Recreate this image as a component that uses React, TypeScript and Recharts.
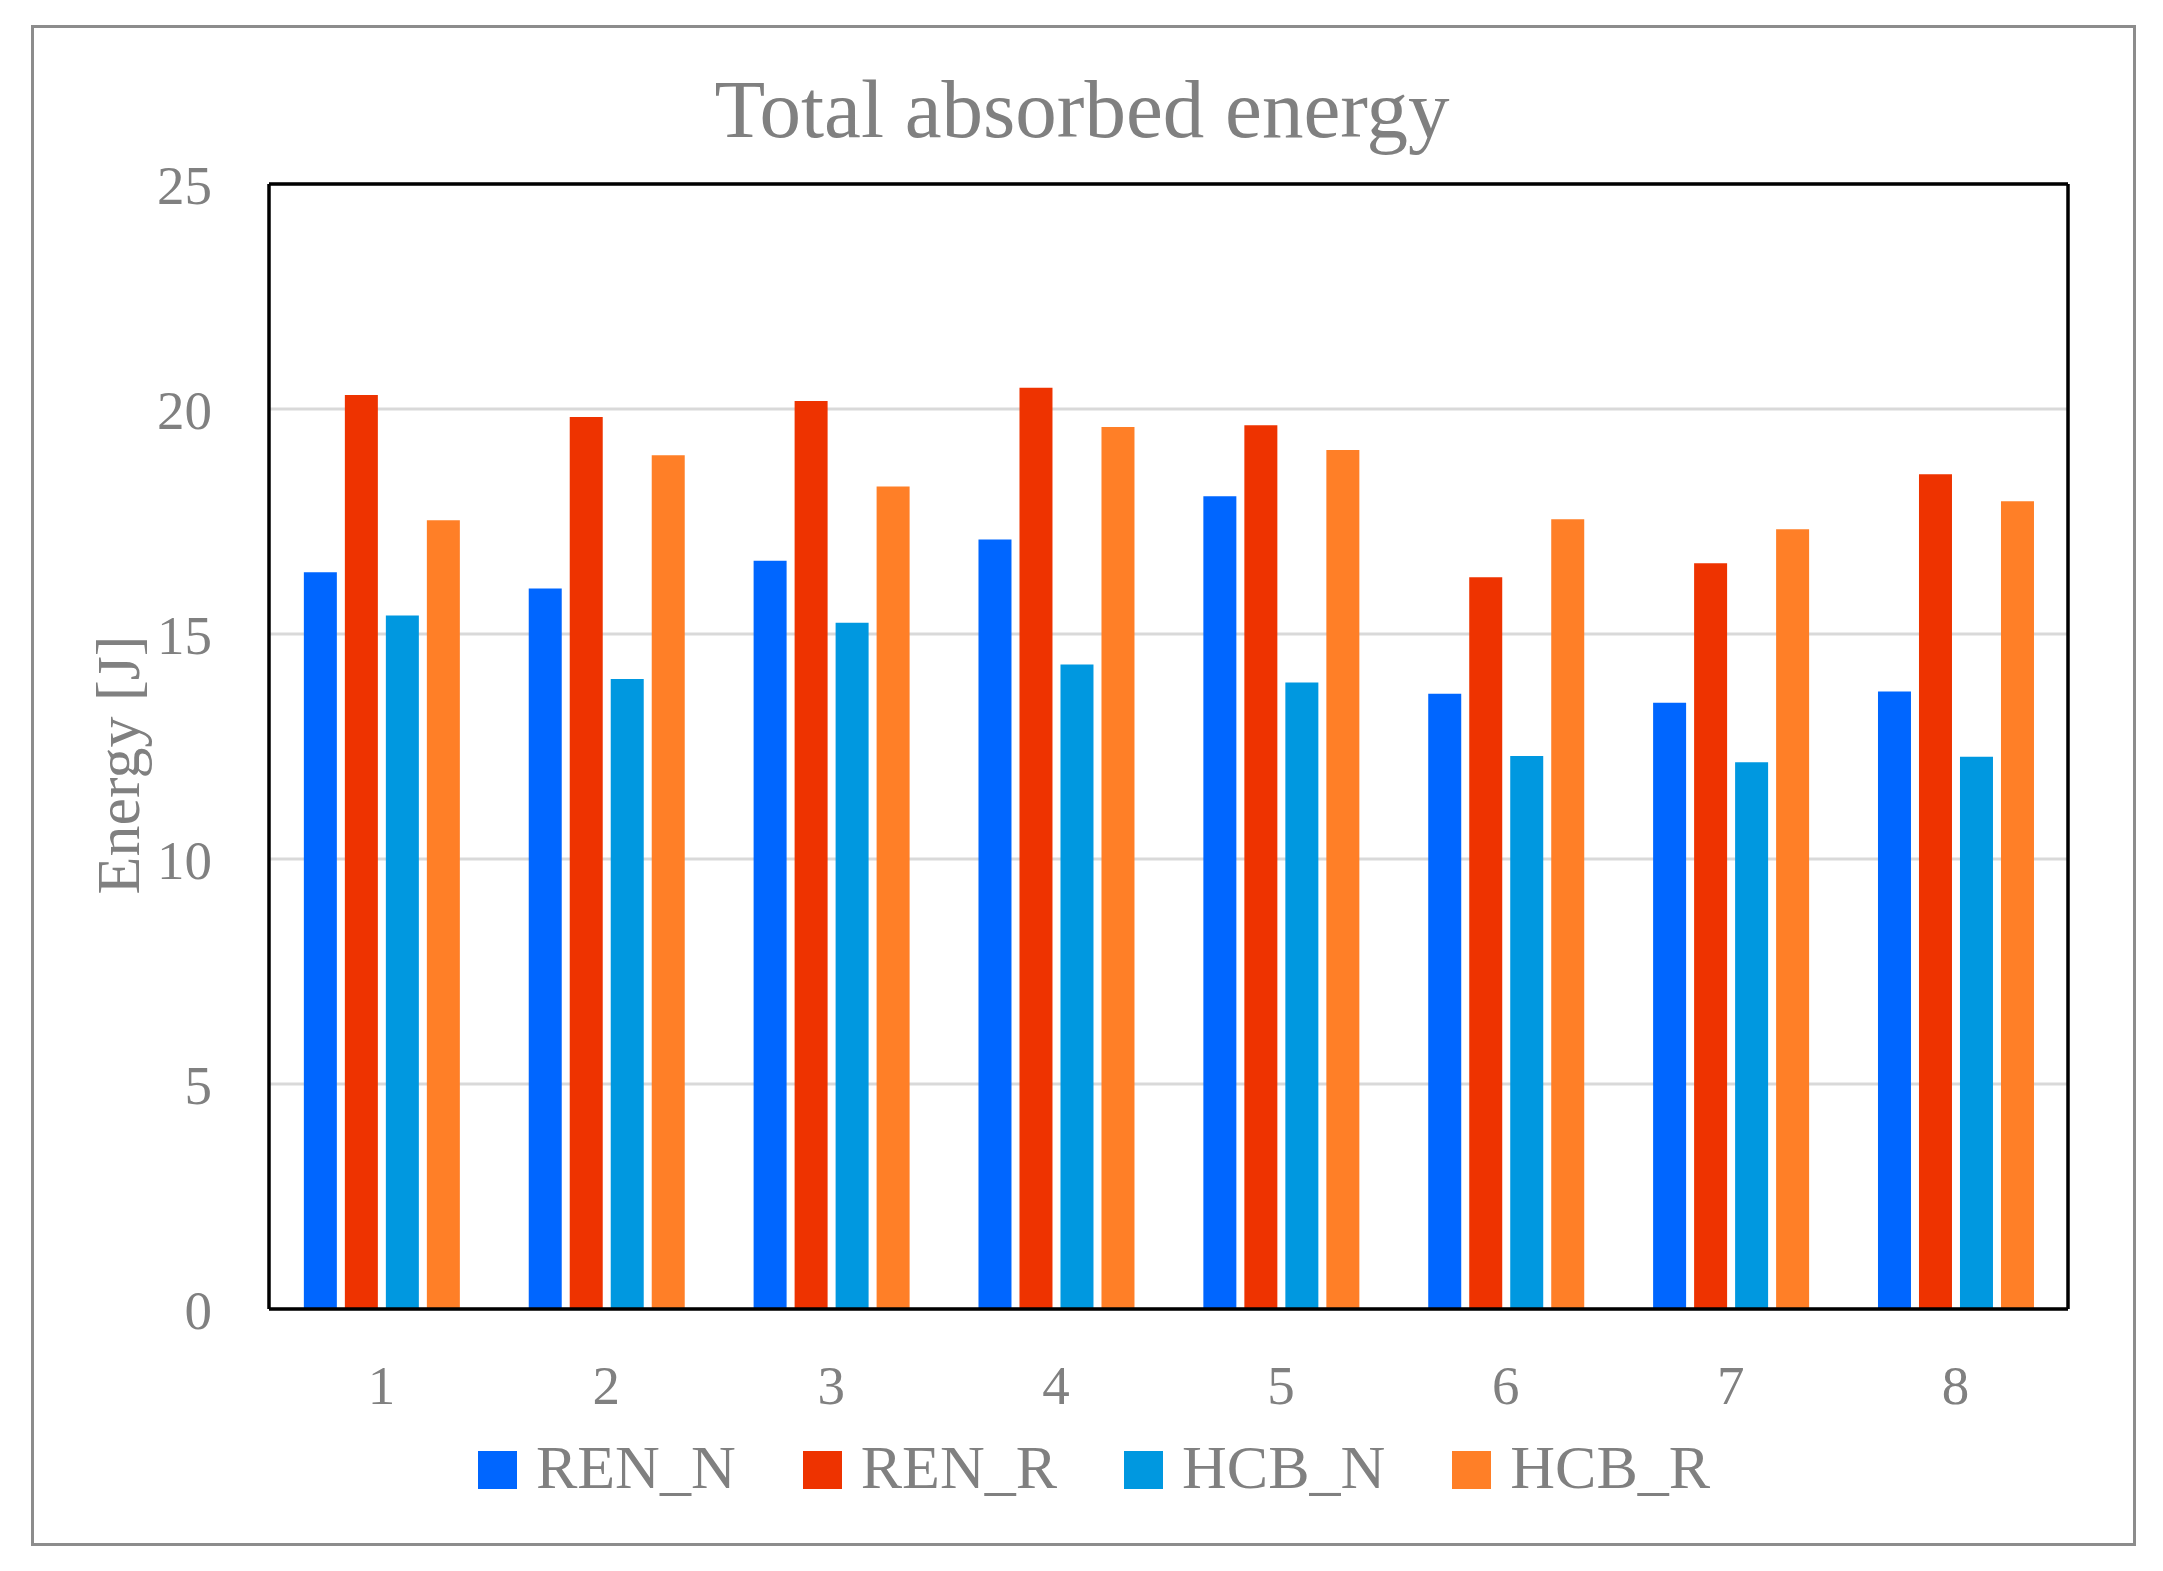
import React from "react";
import { BarChart, Bar, XAxis, YAxis, CartesianGrid } from "recharts";

const categories = ["1", "2", "3", "4", "5", "6", "7", "8"];
const renN = [16.37, 16.01, 16.63, 17.1, 18.06, 13.67, 13.47, 13.72];
const renR = [20.31, 19.82, 20.18, 20.47, 19.64, 16.26, 16.57, 18.55];
const hcbN = [15.41, 14.0, 15.25, 14.32, 13.92, 12.29, 12.15, 12.27];
const hcbR = [17.53, 18.97, 18.28, 19.6, 19.09, 17.55, 17.33, 17.95];
const yTicks = [0, 5, 10, 15, 20, 25];

const series = [
  { key: "REN_N", color: "#0066ff" },
  { key: "REN_R", color: "#ee3300" },
  { key: "HCB_N", color: "#0098e0" },
  { key: "HCB_R", color: "#ff7f27" },
];

const data = categories.map((name, i) => ({
  name,
  REN_N: renN[i],
  REN_R: renR[i],
  HCB_N: hcbN[i],
  HCB_R: hcbR[i],
}));

const FONT = "'Liberation Serif', 'Times New Roman', serif";
const GREY = "#808080";
const BORDER = { stroke: "#000", strokeWidth: 3.5 };

const App = () => {
  return (
    <div
      style={{
        position: "absolute",
        left: 0,
        top: 0,
        width: 2163,
        height: 1571,
        background: "#fff",
      }}
    >
      <div
        style={{
          position: "absolute",
          left: 31,
          top: 25,
          width: 2105,
          height: 1521,
          boxSizing: "border-box",
          border: "3px solid #8c8c8c",
        }}
      />
      <div
        style={{
          position: "absolute",
          left: 0,
          top: 69,
          width: 2164,
          textAlign: "center",
          fontFamily: FONT,
          fontSize: 83,
          lineHeight: "80px",
          color: GREY,
        }}
      >
        Total absorbed energy
      </div>
      <BarChart
        width={2163}
        height={1571}
        data={data}
        margin={{ top: 183, right: 94, bottom: 162, left: 169 }}
        barCategoryGap="15.5%"
        barGap={8}
      >
        <CartesianGrid vertical={false} stroke="#d9d9d9" strokeWidth={3} />
        <XAxis
          dataKey="name"
          height={100}
          axisLine={BORDER}
          tickLine={false}
          tickSize={0}
          tickMargin={56}
          tick={{ fill: GREY, fontSize: 55, fontFamily: FONT }}
        />
        <XAxis
          xAxisId="top"
          dataKey="name"
          orientation="top"
          height={1}
          axisLine={BORDER}
          tickLine={false}
          tick={false}
        />
        <YAxis
          width={100}
          domain={[0, 25]}
          ticks={yTicks}
          axisLine={BORDER}
          tickLine={false}
          tickSize={0}
          tickMargin={57}
          tick={{ fill: GREY, fontSize: 55, fontFamily: FONT }}
        />
        <YAxis
          yAxisId="right"
          orientation="right"
          width={1}
          domain={[0, 25]}
          axisLine={BORDER}
          tickLine={false}
          tick={false}
        />
        {series.map((s) => (
          <Bar
            key={s.key}
            dataKey={s.key}
            fill={s.color}
            isAnimationActive={false}
          />
        ))}
      </BarChart>
      <div
        style={{
          position: "absolute",
          left: 0,
          top: 1436,
          width: 2188,
          display: "flex",
          justifyContent: "center",
          alignItems: "flex-start",
          gap: 67,
          fontFamily: FONT,
          fontSize: 62,
          lineHeight: "62px",
          color: GREY,
        }}
      >
        {series.map((s) => (
          <div key={s.key} style={{ display: "flex", alignItems: "flex-start" }}>
            <div
              style={{
                width: 39,
                height: 38,
                marginTop: 15,
                marginRight: 19,
                background: s.color,
              }}
            />
            <span>{s.key}</span>
          </div>
        ))}
      </div>
      <svg
        width={2163}
        height={1571}
        style={{ position: "absolute", left: 0, top: 0, pointerEvents: "none" }}
      >
        <text
          x={139}
          y={765}
          transform="rotate(-90 139 765)"
          textAnchor="middle"
          fontFamily={FONT}
          fontSize={62}
          fill={GREY}
        >
          Energy [J]
        </text>
      </svg>
    </div>
  );
};

export default App;
